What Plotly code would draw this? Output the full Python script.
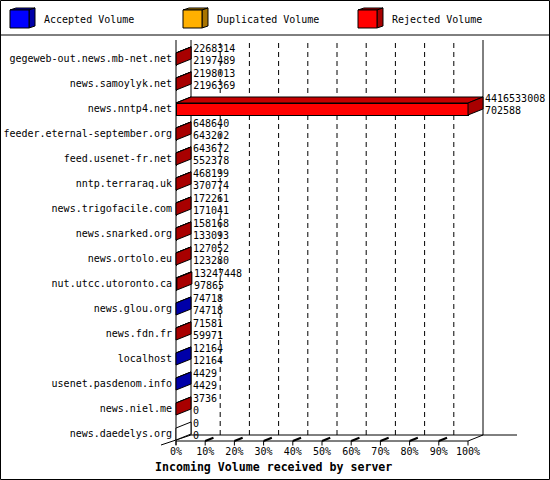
import plotly.graph_objects as go

# values (bytes)
hosts = ["gegeweb-out.news.mb-net.net", "news.samoylyk.net", "news.nntp4.net",
         "feeder.eternal-september.org", "feed.usenet-fr.net", "nntp.terraraq.uk",
         "news.trigofacile.com", "news.snarked.org", "news.ortolo.eu",
         "nut.utcc.utoronto.ca", "news.glou.org", "news.fdn.fr", "localhost",
         "usenet.pasdenom.info", "news.niel.me", "news.daedelys.org"]
total_volume = [2268314, 2198013, 4416533008, 648640, 643672, 468199, 172261, 158168,
                127052, 13247448, 74718, 71581, 12164, 4429, 3736, 0]
accepted_volume = [2197489, 2196369, 702588, 643202, 552378, 370774, 171041, 133093,
                   123280, 97865, 74718, 59971, 12164, 4429, 0, 0]
duplicated_volume = [0, 0, 0, 0, 0, 0, 0, 0, 0, 0, 0, 0, 0, 0, 0, 0]
tick_values = [0, 10, 20, 30, 40, 50, 60, 70, 80, 90, 100]

rejected_volume = [t - a - d for t, a, d in zip(total_volume, accepted_volume, duplicated_volume)]

# colours: front, top, side faces
front_col = {"acc": "#0000FF", "dup": "#FFB000", "rej": "#FF0000"}
top_col = {"acc": "#0000C4", "dup": "#C88C00", "rej": "#C40000"}
side_col = {"acc": "#0000A8", "dup": "#A87400", "rej": "#A80000"}

FONT = "DejaVu Sans Mono"

# pixel geometry of the 3d box
W, H = 550, 480
PXX = 2.92          # px per percent
PXY = 25.0          # px per host row
X0PX, Y0PX = 176, 434
DX = 15 / PXX
DY = 6 / PXY
HALF = 0.24
Y_FLOOR = -0.28
Y_TOP = (Y0PX - 40) / PXY

n = len(hosts)
ypos = [n - 1 - i for i in range(n)]
vmax = max(total_volume)
series = [("Accepted Volume", accepted_volume, "acc"),
          ("Duplicated Volume", duplicated_volume, "dup"),
          ("Rejected Volume", rejected_volume, "rej")]

fig = go.Figure()

# front faces of the bars
for name, vals, key in series:
    fig.add_trace(go.Bar(
        y=ypos, x=[v / vmax * 100 for v in vals], orientation="h", width=2 * HALF,
        marker=dict(color=front_col[key], line=dict(color="black", width=1)),
        name=name, hoverinfo="skip"))

# top and end faces
polys = {}


def add_poly(color, pts):
    xs, ys = polys.setdefault(color, ([], []))
    for px_, py_ in pts + [pts[0]]:
        xs.append(px_)
        ys.append(py_)
    xs.append(None)
    ys.append(None)


bar_end = []
for i in range(n):
    y = ypos[i]
    start = 0.0
    last = None
    for name, vals, key in series:
        v = vals[i] / vmax * 100
        if v > 0:
            end = start + v
            add_poly(top_col[key], [(start, y + HALF), (end, y + HALF),
                                    (end + DX, y + HALF + DY), (start + DX, y + HALF + DY)])
            start = end
            last = key
    bar_end.append(start)
    add_poly(side_col[last] if last else "white",
             [(start, y - HALF), (start, y + HALF),
              (start + DX, y + HALF + DY), (start + DX, y - HALF + DY)])

for color, (xs, ys) in polys.items():
    fig.add_trace(go.Scatter(x=xs, y=ys, mode="lines", fill="toself", fillcolor=color,
                             line=dict(color="black", width=1), hoverinfo="skip",
                             showlegend=False))

# host names
fig.add_trace(go.Scatter(x=[-4 / PXX] * n, y=ypos, mode="text", text=hosts,
                         textposition="middle left", textfont=dict(family=FONT, size=10, color="black"),
                         hoverinfo="skip", showlegend=False, cliponaxis=False))

# value labels
lab_x = [e + DX + 2 / PXX for e in bar_end]
fig.add_trace(go.Scatter(x=lab_x, y=[y + 0.37 for y in ypos], mode="text",
                         text=[str(v) for v in total_volume], textposition="middle right",
                         textfont=dict(family=FONT, size=10, color="black"),
                         hoverinfo="skip", showlegend=False, cliponaxis=False))
fig.add_trace(go.Scatter(x=lab_x, y=[y - 0.08 for y in ypos], mode="text",
                         text=[str(v) for v in accepted_volume], textposition="middle right",
                         textfont=dict(family=FONT, size=10, color="black"),
                         hoverinfo="skip", showlegend=False, cliponaxis=False))

# tick labels
fig.add_trace(go.Scatter(x=tick_values, y=[-0.75] * len(tick_values), mode="text",
                         text=["%d%%" % t for t in tick_values], textposition="middle center",
                         textfont=dict(family=FONT, size=10, color="black"),
                         hoverinfo="skip", showlegend=False, cliponaxis=False))

# box frame: walls, floor, grid, ticks
shapes = []


def dline(x0, y0, x1, y1, dash="solid", width=1):
    shapes.append(dict(type="line", xref="x", yref="y", x0=x0, y0=y0, x1=x1, y1=y1,
                       layer="below", line=dict(color="black", width=width, dash=dash)))


yb = Y_FLOOR + DY
dline(0, Y_FLOOR - 0.16, 0, Y_TOP)
dline(DX, yb, DX, Y_TOP)
dline(100 + DX, yb, 100 + DX, Y_TOP)
dline(0, Y_FLOOR, 100, Y_FLOOR)
dline(DX, yb, (517 - X0PX) / PXX, yb)
dline(-DX, Y_FLOOR - 0.16, DX, yb)
dline(100, Y_FLOOR, 100 + DX, yb)
for t in tick_values:
    dline(t, Y_FLOOR, t, Y_FLOOR - 0.18)
    if 0 < t < 100:
        dline(t + DX, yb, t + DX, Y_TOP, dash="5px,4px")
        dline(t, Y_FLOOR, t + DX * 0.55, Y_FLOOR + DY * 0.55, width=2)


def pp(x, y):
    return x / W, 1 - y / H


def ppath(pts):
    return "M " + " L ".join("%.5f,%.5f" % pp(x, y) for x, y in pts) + " Z"


# outer frame and legend strip
shapes.append(dict(type="rect", xref="paper", yref="paper",
                   x0=0.5 / W, y0=1 - 479.5 / H, x1=549.5 / W, y1=1 - 0.5 / H,
                   line=dict(color="black", width=1)))
shapes.append(dict(type="line", xref="paper", yref="paper", x0=0, x1=1,
                   y0=1 - 35 / H, y1=1 - 35 / H, line=dict(color="black", width=1)))

annotations = []
legend_x = [10, 183, 358]
for (name, vals, key), lx in zip(series, legend_x):
    fx0, fx1, fy0, fy1 = lx, lx + 19, 10, 28
    shapes.append(dict(type="path", xref="paper", yref="paper",
                       path=ppath([(fx0, fy0), (fx0 + 6, fy0 - 2), (fx1 + 6, fy0 - 2), (fx1, fy0)]),
                       fillcolor=top_col[key], line=dict(color="black", width=1)))
    shapes.append(dict(type="path", xref="paper", yref="paper",
                       path=ppath([(fx1, fy0), (fx1 + 6, fy0 - 2), (fx1 + 6, fy1 - 2), (fx1, fy1)]),
                       fillcolor=side_col[key], line=dict(color="black", width=1)))
    shapes.append(dict(type="path", xref="paper", yref="paper",
                       path=ppath([(fx0, fy0), (fx1, fy0), (fx1, fy1), (fx0, fy1)]),
                       fillcolor=front_col[key], line=dict(color="black", width=1)))
    ax, ay = pp(lx + 32, 20)
    annotations.append(dict(x=ax, y=ay, xref="paper", yref="paper", text=name,
                            showarrow=False, xanchor="left", yanchor="middle",
                            font=dict(family=FONT, size=10, color="black")))

tx, ty = pp(273, 467)
annotations.append(dict(x=tx, y=ty, xref="paper", yref="paper",
                        text="<b>Incoming Volume received by server</b>", showarrow=False,
                        xanchor="center", yanchor="middle",
                        font=dict(family=FONT, size=11.6, color="black")))

fig.update_layout(
    width=W, height=H, margin=dict(l=0, r=0, t=0, b=0),
    barmode="stack", showlegend=False,
    paper_bgcolor="white", plot_bgcolor="white",
    xaxis=dict(visible=False, range=[-X0PX / PXX, (W - X0PX) / PXX], fixedrange=True),
    yaxis=dict(visible=False, range=[-(H - Y0PX) / PXY, Y0PX / PXY], fixedrange=True),
    shapes=shapes, annotations=annotations)

# the page gets the default 8px body margin otherwise
fig.write_html("out.html", config={"displayModeBar": False},
               post_script="document.body.style.margin='0';document.body.style.overflow='hidden';")
